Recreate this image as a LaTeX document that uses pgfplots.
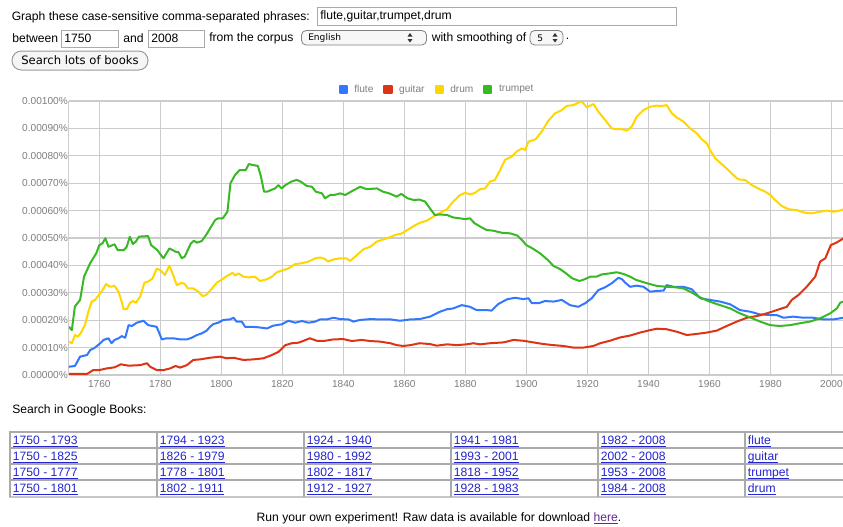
\documentclass[border=0pt]{standalone}
\usepackage{pgfplots}
\pgfplotsset{compat=1.18}
\usepackage{fontspec}
\setmainfont{Liberation Sans}
\newfontfamily\lucida{DejaVu Sans}
\definecolor{cflute}{RGB}{51,119,255}
\definecolor{cguitar}{RGB}{220,52,20}
\definecolor{cdrum}{RGB}{255,214,0}
\definecolor{ctrumpet}{RGB}{56,184,36}
\definecolor{gridgray}{RGB}{204,204,204}
\definecolor{tickgray}{RGB}{125,125,125}
\definecolor{boxgray}{RGB}{170,170,170}
\definecolor{linkblue}{RGB}{36,36,210}
\definecolor{visited}{RGB}{100,40,150}
\newcommand{\bodyfont}{\fontsize{9.1}{11}\selectfont}
\newcommand{\lnk}[3]{\node[anchor=base west, inner sep=0pt, text=linkblue, font=\bodyfont] at (#1,#2) {\underline{\smash{#3}}};}
\begin{document}
\begin{tikzpicture}[x=0.75pt,y=-0.75pt]
\useasboundingbox (0,0) rectangle (843,526);
% ---- form ----
\node[anchor=west, inner sep=0pt, font=\bodyfont] at (11.5,17) {Graph these case-sensitive comma-separated phrases:};
\draw[draw=boxgray, fill=white, line width=0.75pt] (317,7.5) rectangle (676.5,25.5);
\node[anchor=west, inner sep=0pt, font=\bodyfont] at (320,16.5) {flute,guitar,trumpet,drum};
\node[anchor=west, inner sep=0pt, font=\bodyfont] at (12,38.5) {between};
\draw[draw=boxgray, fill=white, line width=0.75pt] (61,30) rectangle (118,47);
\node[anchor=west, inner sep=0pt, font=\bodyfont] at (64,38.5) {1750};
\node[anchor=west, inner sep=0pt, font=\bodyfont] at (123,38.5) {and};
\draw[draw=boxgray, fill=white, line width=0.75pt] (148,30) rectangle (204,47);
\node[anchor=west, inner sep=0pt, font=\bodyfont] at (151,38.5) {2008};
\node[anchor=west, inner sep=0pt, font=\bodyfont] at (209,38.5) {from the corpus};
\draw[draw=gray, fill=gray!6, rounded corners=3.5pt, line width=0.6pt] (301.5,30.5) rectangle (426.5,45);
\node[anchor=west, inner sep=0pt, font=\lucida\fontsize{6.8}{8}\selectfont] at (308,37.8) {English};
\fill[black!80] (407.5,36.5) -- (412.5,36.5) -- (410,33) -- cycle;
\fill[black!80] (407.5,39) -- (412.5,39) -- (410,42.5) -- cycle;
\node[anchor=west, inner sep=0pt, font=\bodyfont] at (431.5,38.5) {with smoothing of};
\draw[draw=gray, fill=gray!6, rounded corners=3.5pt, line width=0.6pt] (530,30.5) rectangle (563,45);
\node[anchor=west, inner sep=0pt, font=\lucida\fontsize{6.8}{8}\selectfont] at (537,37.8) {5};
\fill[black!80] (552.5,36.5) -- (557.5,36.5) -- (555,33) -- cycle;
\fill[black!80] (552.5,39) -- (557.5,39) -- (555,42.5) -- cycle;
\node[anchor=west, inner sep=0pt, font=\bodyfont] at (565.5,38.5) {.};
\draw[draw=gray!80, fill=gray!8, rounded corners=7pt, line width=0.75pt] (12,51) rectangle (148,70);
\node[inner sep=0pt, font=\lucida\fontsize{8.7}{10}\selectfont] at (80,60.5) {Search lots of books};
% ---- chart ----
\begin{axis}[
  at={(51.6pt,-281.25pt)}, anchor=south west,
  scale only axis, width=580.65pt, height=205.5pt,
  xmin=1750, xmax=2003.8, ymin=0, ymax=100,
  axis x line*=bottom, axis y line*=left,
  axis line style={-, draw=gridgray, line width=0.9pt},
  xtick={1760,1780,...,2000},
  xticklabels={1760,1780,1800,1820,1840,1860,1880,1900,1920,1940,1960,1980,2000},
  ytick={0,10,...,100},
  yticklabels={0.00000\%,0.00010\%,0.00020\%,0.00030\%,0.00040\%,0.00050\%,0.00060\%,0.00070\%,0.00080\%,0.00090\%,0.00100\%},
  major tick length=0pt,
  grid=major, major grid style={draw=gridgray, line width=0.9pt},
  tick label style={font=\fontsize{7.6}{9}\selectfont, text=tickgray},
  yticklabel style={inner sep=0pt, xshift=-0.5pt},
  xticklabel style={inner sep=0pt, yshift=-3.5pt},
  legend columns=-1,
  legend style={at={(0.476,1.042)}, anchor=center, draw=none, fill=none,
    font=\fontsize{7.6}{9}\selectfont, text=tickgray,
    /tikz/every even column/.append style={column sep=5.5pt}},
  legend image code/.code={\fill[#1] (0pt,-2.7pt) rectangle (5.3pt,2.7pt); \path (8.3pt,0pt);},
  every axis plot/.append style={line width=1.5pt, line join=round},
]
\addplot[cflute] coordinates {(1750,3)(1752,3.3)(1753.7,6.7)(1756,7.3)(1757,9.1)(1758.6,10)(1760.3,11.6)(1761.4,12.8)(1763,13.4)(1764,11.6)(1765,12.8)(1766.3,13.4)(1767.4,14.2)(1768.5,13.6)(1769.6,18.2)(1770.7,17.9)(1772.3,19.1)(1774.5,19.8)(1776,18.2)(1778.8,17.6)(1780.5,13)(1782,13.4)(1784.3,13.4)(1786.5,13)(1788.7,13)(1790.3,13.6)(1792,14.6)(1793.6,15.2)(1795.2,16.2)(1796.3,17.6)(1797.4,18.6)(1799,19.1)(1800.7,20.1)(1802.9,20.3)(1804,20.9)(1805,19.5)(1806.7,19.5)(1807.8,17.6)(1810,17.6)(1812.2,17.4)(1815,17)(1817,18)(1819.8,18.5)(1822,19.8)(1824.2,19.1)(1826.4,19.7)(1828.6,19.1)(1830.8,19.5)(1832.4,20.3)(1834.6,20.3)(1836.8,20.9)(1839,20.4)(1841.7,20.3)(1843.3,19.5)(1845.5,20.1)(1848.8,20.4)(1852,20.3)(1855.4,20.3)(1858.6,19.8)(1862,20.3)(1865,20.4)(1868.4,21.3)(1871.7,23.1)(1874,24)(1876,24.3)(1878.8,25.5)(1881.5,24.9)(1883.7,23.7)(1887,23.7)(1888.6,23.5)(1890.8,25.9)(1893.6,27.6)(1896.3,28.2)(1899,27.7)(1900.7,28)(1901.8,26.2)(1904,26.2)(1906.1,27)(1908.9,26.8)(1911.6,27.4)(1914.3,25.5)(1917,24.9)(1919.3,26.2)(1921.4,28)(1923.6,31)(1925.8,32)(1928,33.5)(1930.2,35.5)(1931.3,35)(1932.4,33.7)(1934,32.2)(1936.2,32.6)(1938.4,32.2)(1940.6,30.4)(1942.8,30.7)(1945,30.8)(1946,32.8)(1948.2,32.2)(1951.5,32.2)(1954.2,31.3)(1957,28)(1960.2,27.4)(1963.5,26.8)(1966.8,25.8)(1970,23.7)(1973.4,23.1)(1976.6,22.1)(1980,21.9)(1982,21.9)(1984.3,20.9)(1987.5,21.3)(1990.8,20.9)(1994,20.9)(1997.4,20.3)(2000.7,20.3)(2004,20.9)};
\addlegendentry{flute}
\addplot[cguitar] coordinates {(1750,0.4)(1756,0.4)(1758,1.8)(1760,1.8)(1762.4,2.4)(1765,2.8)(1767,3.9)(1769.6,3.4)(1773.4,3.6)(1775.6,4.3)(1776.7,3)(1778.8,1.8)(1781,1.8)(1783.2,2.4)(1785,3.3)(1786.5,2.7)(1788.7,3.6)(1790.8,5.5)(1793,5.7)(1796.3,6.3)(1799.6,6.7)(1801.8,6.1)(1804,6.3)(1807.2,5.5)(1810.5,5.7)(1813.8,6.1)(1816.6,7.3)(1818.8,8.5)(1821,10.9)(1823.1,11.6)(1825.3,11.8)(1827,12.5)(1829,13.4)(1831.3,12.5)(1834,12.5)(1836.8,13)(1840,13.1)(1842.8,12.4)(1846,12.8)(1848.8,12.4)(1852,12.2)(1855.4,11.6)(1857.5,10.9)(1859.7,10.6)(1862,10.9)(1865,11.6)(1868.4,11.3)(1870.6,10.7)(1874,11.2)(1877.2,10.9)(1880.5,11.2)(1882.6,11.6)(1884.8,11.2)(1888.1,11.6)(1892.5,11.9)(1895.8,12.8)(1899,12.5)(1902.3,11.9)(1905.6,11.3)(1908.9,10.9)(1912.1,10.6)(1915.4,10)(1918.7,10)(1922,10.6)(1924.2,11.6)(1927.4,12.5)(1930.7,13.7)(1934,14.4)(1937.3,15.5)(1940.6,16.4)(1942.8,16.9)(1946,16.7)(1949.3,15.8)(1952.6,14.6)(1955.9,15)(1959.2,15.5)(1962.4,16.2)(1965.7,17.9)(1969,19.5)(1972.3,20.9)(1975.5,21.5)(1978.8,22.5)(1982.1,23.7)(1985.4,24.9)(1987,27.4)(1989.2,29.2)(1991.9,32.2)(1994.7,35.9)(1996.3,41.4)(1998,42.6)(1999.8,47.4)(2001.8,48.4)(2004,49.9)};
\addlegendentry{guitar}
\addplot[cdrum] coordinates {(1750,12.2)(1751,11.6)(1752,14.6)(1753,14)(1754,15.5)(1755.3,18.2)(1756.4,23.1)(1757.5,26.8)(1758.6,27.4)(1760.3,29.8)(1761.4,31.6)(1762.2,33.2)(1763.5,32.2)(1765,32.5)(1766.3,30.4)(1767,28)(1768,24)(1769,24)(1770,26.2)(1771,27)(1772,26.4)(1773.4,28.6)(1774.8,33.7)(1776,34.1)(1777.5,35.3)(1778.8,38.8)(1780,38.3)(1781.5,36.5)(1783,39.9)(1784,37.1)(1785.4,32.8)(1787,33.7)(1788,33.2)(1789,31.6)(1790.8,31.6)(1792.5,30.4)(1793.8,28.8)(1795,29.2)(1797,31.6)(1798.5,33.7)(1800,34.7)(1801.8,36.1)(1803.7,37.3)(1804.5,36.3)(1805.6,37.1)(1807.2,35.9)(1809,35.6)(1811,35.9)(1812.7,34.3)(1815,35)(1816.6,35.9)(1818.2,37.5)(1819.8,38.1)(1822,38.9)(1824.2,40.5)(1826.4,40.8)(1828.6,41.4)(1830.8,42.6)(1832.4,42.9)(1834,42.3)(1835,41.4)(1836.8,42.2)(1839,42.6)(1841,42.6)(1842.2,41.6)(1843.9,43.2)(1846.6,45.9)(1848.8,46.8)(1851,48.7)(1854.3,49.9)(1857,51.1)(1859.2,51.7)(1861.4,53.2)(1863.6,54.7)(1865.2,55.6)(1867.3,56.3)(1869.5,57.8)(1871.7,59.2)(1874,60.5)(1876,63.3)(1878.3,65.7)(1880,66.5)(1881.5,65.9)(1883.2,66.5)(1884.8,67.8)(1886.5,68.1)(1888.1,70.6)(1889.7,71.2)(1891.4,74.8)(1893,78.5)(1895.2,79.7)(1896.8,81.5)(1898.5,82.7)(1899.6,82.1)(1900.7,85.2)(1903,86)(1905,88.8)(1907.2,92.8)(1909.4,95.5)(1911.6,96.7)(1913.2,98.2)(1915.4,98.5)(1917,99.4)(1918.2,99.8)(1919.8,97.7)(1922,98.9)(1923.6,96.1)(1925.8,93.1)(1928,90)(1929.6,89.7)(1931.3,89.7)(1933,89.2)(1934.5,90.6)(1936.2,94.3)(1938.4,96.7)(1940.6,97.9)(1942.7,98.3)(1944.4,98.2)(1946,98.5)(1947.7,95.5)(1949.3,94)(1951.5,92.5)(1953.7,90)(1955.9,88.2)(1957.5,86)(1959.2,84.5)(1960.2,82.1)(1961.9,79.1)(1964,77)(1966.2,74.8)(1968.4,72.4)(1969.5,71.4)(1971.7,71.2)(1973.9,69.3)(1976,68.1)(1978.3,66.9)(1980,65.7)(1981.5,63.9)(1983.7,61.7)(1986,60.5)(1988.6,60.2)(1991.4,59.2)(1993.6,59)(1996.3,59.6)(1998.5,60)(2000.7,59.6)(2002.3,59.9)(2004,60.5)};
\addlegendentry{drum}
\addplot[ctrumpet] coordinates {(1750,17.6)(1751,16.4)(1752,25)(1753.7,27.4)(1755,35.9)(1757,40.8)(1759,44.4)(1760,47.4)(1761,48)(1762,49.9)(1763,46.8)(1765,47.7)(1766,45.6)(1768,45.6)(1769,46.8)(1770,50.5)(1771,47.8)(1772,48.7)(1773,50.5)(1776,50.7)(1777,47.4)(1779,45.6)(1781,42.6)(1783,46.2)(1785,45)(1786,44.8)(1787,42.6)(1788,43.2)(1790,48)(1791,49)(1792,48.3)(1793.6,48.9)(1795,51.1)(1796,52.9)(1798,56.6)(1799,57.2)(1800.5,57.2)(1802,59.6)(1803,70)(1804.5,73)(1806,74.8)(1808,74.8)(1809,77)(1810.5,76.6)(1812,76.3)(1813,72.4)(1814,66.9)(1815,66.9)(1817.6,68.1)(1818.7,69.3)(1819.8,68.1)(1821,69.3)(1823,70.6)(1824.7,71.2)(1826,70.6)(1828,69)(1829.7,68.7)(1831,66.9)(1833,66.3)(1834,64.5)(1835.7,65.7)(1837,65.7)(1839,66.3)(1840.6,65.7)(1843,67.2)(1845.5,68.7)(1847.7,67.8)(1851,68.1)(1853,66.9)(1855,66.3)(1857.5,65.1)(1859,66.1)(1861,64.5)(1863,63.9)(1865,64)(1866.8,63.3)(1868.4,60.8)(1870,58.4)(1871.7,58.6)(1874,58.4)(1876,57.5)(1878,57.2)(1880,56.9)(1881.5,57.2)(1883,55.4)(1885,54.1)(1887,52.9)(1889,52.7)(1892,51.9)(1894.7,51.7)(1897,50.9)(1898.5,49.3)(1900,47.4)(1902,46.2)(1904.5,44.4)(1907,42)(1908.9,39.8)(1911,38.7)(1913,37.1)(1915,35.3)(1917.4,34.3)(1919,34.9)(1921,35.9)(1923,35.9)(1924.7,36.7)(1927.4,37.1)(1929.6,37.5)(1931.8,36.9)(1934,35.9)(1936,34.7)(1939.5,33.5)(1942.8,32.5)(1946,32.2)(1949,32)(1951.5,31.6)(1953.7,30.4)(1957,28.3)(1960,26.8)(1963.5,25.5)(1966.8,24.3)(1970,22.5)(1973.4,21)(1976.6,19.5)(1980,18.2)(1983,17.9)(1986.5,18.2)(1989.7,18.9)(1993,19.5)(1996.3,20.7)(1999.6,22.5)(2001.8,24.3)(2002.9,26.4)(2004,26.8)};
\addlegendentry{trumpet}
\end{axis}
% ---- Google Books table ----
\node[anchor=west, inner sep=0pt, font=\bodyfont] at (12,410.5) {Search in Google Books:};
\begin{scope}[draw=boxgray, line width=1.1pt]
\foreach \yy in {432,448,464,480} {\draw (9,\yy) -- (843,\yy);}
\draw[draw=gray!45, line width=2pt] (9,497) -- (843,497);
\foreach \xx in {10,157,304,451,598,745} {\draw (\xx,432) -- (\xx,497);}
\end{scope}
\lnk{12.7}{444.5}{1750 - 1793}\lnk{159.7}{444.5}{1794 - 1923}\lnk{306.7}{444.5}{1924 - 1940}\lnk{453.7}{444.5}{1941 - 1981}\lnk{600.7}{444.5}{1982 - 2008}\lnk{747.7}{444.5}{flute}
\lnk{12.7}{460.5}{1750 - 1825}\lnk{159.7}{460.5}{1826 - 1979}\lnk{306.7}{460.5}{1980 - 1992}\lnk{453.7}{460.5}{1993 - 2001}\lnk{600.7}{460.5}{2002 - 2008}\lnk{747.7}{460.5}{guitar}
\lnk{12.7}{476.5}{1750 - 1777}\lnk{159.7}{476.5}{1778 - 1801}\lnk{306.7}{476.5}{1802 - 1817}\lnk{453.7}{476.5}{1818 - 1952}\lnk{600.7}{476.5}{1953 - 2008}\lnk{747.7}{476.5}{trumpet}
\lnk{12.7}{492.5}{1750 - 1801}\lnk{159.7}{492.5}{1802 - 1911}\lnk{306.7}{492.5}{1912 - 1927}\lnk{453.7}{492.5}{1928 - 1983}\lnk{600.7}{492.5}{1984 - 2008}\lnk{747.7}{492.5}{drum}
% ---- footer ----
\node[inner sep=0pt, font=\bodyfont] at (439,518) {Run your own experiment! Raw data is available for download \textcolor{visited}{\underline{here}}.};
\end{tikzpicture}
\end{document}
